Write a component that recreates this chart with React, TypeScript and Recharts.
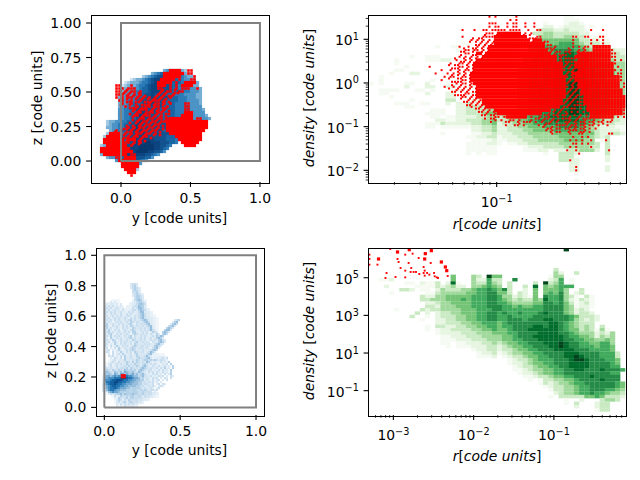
import React from 'react'
import { ScatterChart, Scatter, XAxis, YAxis, Label } from 'recharts'

// upper left: positions, 3px-ish bins, '.' = empty
const topBlueRows = [
  '', '', '',
  '.....................34565432',
  '.................34566776654321',
  '..............234567788776654332',
  '..........1233456788887766554433',
  '........1233345567888877666554433',
  '.......12333455678888777665554433',
  '.......233344566788887776655544433',
  '.......334445566788877776665554443',
  '......3344455667787777666555444433',
  '......3344555667788777766655544433',
  '......3445556677788777666655544443',
  '......3445566677787776666555544443',
  '......3445566777777776666555554444',
  '......44556677877777666665555544443',
  '......44556678877776666665555544444',
  '......445566788777766666655555444443',
  '......4455667887777666666655555444443',
  '..2334455667788777777666665555544443',
  '..23445566778877777777666655555444',
  '..334455667888777777776666655554',
  '...3445667788877777776666555544',
  '..23445566778887777777766655544',
  '.234455667788888777777666655',
  '.23445566778888888777766655',
  '.2344556677888899888777665',
  '234455667788899999887765',
  '23445566778889999988765',
  '2344556677889999887764',
  '34455667788888877654',
  '..3445567788777664',
  '.....44566777654',
  '.......4566654',
  '.........4553',
  '...........32',
]

// red points per row: "a-b" = packed run of bins, "a" = lone point
const topRedRows = [
  '', '', '',
  '23-26 29 30',
  '21-27 29 30',
  '21-26 31',
  '20-24 26 30 31',
  '19-23 25 28-31',
  '5 6 10 19-21 23 25 27-30',
  '5 6 7 9 10 11 19 20 23 25 27 28 29 32',
  '5 6 8 10 11 13 20 22 23 26 27',
  '5 6 7 9 11 13 19 21 24',
  '5 7 9 10 12 14 16 18 20 23',
  '6 7 10 13 17 18 19 21',
  '7 10 16 18 19 21 23 28 29',
  '8 12 15 16 18 19 22 28 29',
  '11 13 14 15 17 19 21 28 29',
  '12 13 15 16 17 19 20 28-30',
  '11 12 14 15 16 18 20 27-30',
  '13 14 16 17 19 20 22 23-30 32 33',
  '12 14 15 17 18 20 21 22-35',
  '13 15 16 18 19 22-35',
  '9 11 13 14 16 17 19 22-35',
  '5 10 12 14 15 17 18 22-34',
  '3-6 8 10 12 13 15 16 18 23-33',
  '2-6 9 11 12 14 15 25-33',
  '1-7 9-11 13 26-33',
  '1-7 8 9 11 13 27-32',
  '2-8 10 28-31',
  '0-9',
  '0-10',
  '1-8 10 11',
  '5 6 8-11',
  '6-11',
  '7-12',
  '7-12',
  '8-11',
  '9-11',
  '10',
]
// loose points sitting between the bins above
const topRedLoose = [
  '', '', '', '', '', '', '', '', '',
  '8 20 24',
  '7 9 12 19 21 24 25',
  '8 10 12 14 18 20 22 23',
  '6 8 11 13 15 17 19 21',
  '8 9 11 12 14 15 16 20 22',
  '6 9 11 13 14 15 17 20',
  '9 10 11 13 14 17 20 21',
  '10 12 16 18 20 22',
  '9 11 14 18 21 22',
  '10 13 17 19 21',
  '10 12 15 18 21',
  '9 11 13 16 19',
  '8 10 12 14 17 20',
  '7 8 10 12 15 18 20',
  '4 6 8 9 11 13 16 19',
  '7 9 11 14 17 19',
  '7 8 10 13 16',
  '8 12 14',
  '10 12',
]

// upper right: 50x50 histogram, left and right halves of each density row
const topHeatLeft = [
  '', '', '', '', '', '', '', '',
  '..................11',
  '.............1..11',
  '.................1111',
  '',
  '........1..111',
  '.....1.....1112211',
  '.....1...............1',
  '.......1',
  '.....11',
  '....1...22.......1',
  '..1',
  '..1.........1....11',
  '1.1....11..2...11',
  '.......2...22..22..11',
  '..1111...11.1...11',
  '..11.......2...22...2',
  '....1..........22.11.22',
  '........1......33...222',
  '.....111..11...2.2232223',
  '.......11........22333334',
  '............111..22333344',
  '...........1111..22333455',
  '............11.1122223344',
  '.............221122333445',
  '...........11132222233445',
  '...........11.11111122334',
  '....................22334',
  '..............1.....11223',
  '...................112233',
  '....................11112',
  '...................111122',
  '...................111111',
  '...................111111',
  '...................1.1.11',
]
const topHeatRight = [
  '.............11',
  '.............111',
  '.........1...1221',
  '.........22.12222.1',
  '........3332232221',
  '.......33443333322',
  '........4443344332111',
  '.......455555555332211',
  '.......455556665433322',
  '......5566666666543332',
  '......5566677776654433322',
  '......5566677887665443332',
  '.....55666778887665544333',
  '.....55666778887766544433',
  '.....56667788888776554444',
  '.....56667788888776655444',
  '....556667788889877665544',
  '....556667788889877665544',
  '....556667788889877665544',
  '....556667788889877665544',
  '....556677788899887766554',
  '....556677788899887766554',
  '....556677788899887766554',
  '....556677788899887766554',
  '....556677788899887766554',
  '....556677788899887766554',
  '....556677788899887766554',
  '....556677788899887766554',
  '....556677788899887766554',
  '....556677788899887765544',
  '3445566677888888776654433',
  '3344556677788888766543332',
  '2334455667777777765433322',
  '2233445556667777654322211',
  '2233344555566666654322221',
  '2223334444455555555322332',
  '1222333444445555554323...',
  '1122233344444555544.13...',
  '1.112233333344444443.3...',
  '.....122233334444433.3...',
  '.....11122.222334442.3...',
  '.........1..3332.....3...',
  '............3331.....2...',
  '............3322.....2...',
  '..............22',
  '..............22.....2...',
  '..............22.....2...',
  '...............1',
  '',
  '...............1',
]
const topHeatRed = [
  '40 42 49',
  '47 49',
  '40 41 42 46 48 49 52 55',
  '40 42 43 46 48 49 52 55',
  '31 35 38 39 41 42 43 44 45 47 48 49 50 53 56 57 74 78',
  '39 40 41 43-50 52 54',
  '31 38 39 40 41 42-52 56 57 68 69 72 73 77 78',
  '34 36 38 40 42-53 55-57 68 74 76 78',
  '37 39 41 42-58 68 74 78',
  '30 33 36 38 40-58 62 68 70 72 73 75-80',
  '32 33 35 36 38 40-59 61 67 70 72 75-80 81',
  '32 33 36-37 39-60 62 67 70-80 81 82',
  '30 32 34 36 38-62 64 69-80 81 82',
  '29 32 34 36-62 64 70-80 82 84',
  '27 30 31 33 35-64 66 69-81 82',
  '20 30 31 33 35-64 65 67 69-81 83',
  '24 27 30 32 33 35-64 65 68 70-81 82 84',
  '22 26 28 30 32 34-64 66 68-81 83 84',
  '25 27 28 31 32 34-65 66 68 69-83 84',
  '24 31 32 34-65 67 69-83 84',
  '29 31 32 34 35-65 66 68 70-83 85',
  '25 28 30 32 34 36-65 66 68 70-83 85',
  '29 31 33 36-65 67 69 71-84',
  '32 33 36-65 66 68 71-84',
  '31 32 34 36-65 67 69 72-85',
  '33 35 37 38-64 66 68 72-85',
  '34 36 38-64 65 67 72-85',
  '34 37 39-63 65 66 73-85',
  '38 40 42-60 62 64 73-84 85',
  '39 42 43-57 60 63 66 74-84 85',
  '42 43 45 46-52 54 57 60 63 67 70 74-81 83 85',
  '42 44 47 48 50 54 58 61 63 67 69 72 75 78 81',
  '50 59 60 66 69 72 75 78',
  '58 61 67 69 72',
  '59 61 67 68 69 72',
  '61 67 70 71 80 81',
  '68 71 73',
  '67 69 71 74 79',
  '68 69 71 73',
  '67 69 74',
  '66 69 80',
  '70',
  '',
  '67',
  '',
  '69',
  '69',
]
// loose points round the edges of the packed red area and in the gap between its two lobes
const topHeatRedLoose = [
  '', '', '', '', '',
  '38 42 51 53',
  '34 36 37 53 54 55',
  '33 35 37 39 41 54 58 59',
  '35 36 38 40 59 60',
  '31 34 35 37 39 59 60 61 66 71',
  '30 31 34 37 39 60 62 63 65 66 69 71',
  '30 34 35 38 61 63 64 65 69 71 72',
  '28 31 33 35 37 63 65 66 67 68 72',
  '30 31 33 35 63 65 66 67 68 69 72',
  '26 28 29 32 34 65 67 68 70',
  '27 28 29 32 34 66 68 71',
  '29 31 34 66 67 69 71',
  '27 29 31 33 65 67 69 70',
  '26 29 30 33 67 68',
  '27 28 29 30 33 66 68 70',
  '27 30 33 67 69 71',
  '26 29 31 33 35 67 69 71',
  '27 28 30 32 34 35 66 68 70 72',
  '28 29 30 31 34 35 67 69 70',
  '30 33 35 66 68 70 71',
  '31 32 34 36 65 67 69 70 71',
  '32 33 35 37 66 68 69 70 71',
  '35 36 38 64 67 68 70 72',
  '36 37 39 41 61 63 65 67 69 71',
  '37 38 40 41 58 59 61 62 64 65 68 70 72',
  '38 40 41 55 56 58 59 61 64 65 66 69 71 72 73',
  '40 45 46 49 51 52 53 55 57 60 62 65 66 68 70 71 73 74 76 77 79 80',
  '45 48 49 51 56 58 62 63 64 65 67 68 70 71 73 74 76 79',
  '59 60 62 63 65 66 68 70 71 73 75',
  '60 62 63 66 70 71 73',
]

// lower left positions: faint 3px bins under the 2px filaments
const lowWashRows = [
  '', '', '',
  '............22',
  '............232',
  '............233',
  '............1232',
  '.............232',
  '.....111....23321',
  '...12221...233331',
  '...122222.2233442',
  '...122232222234432',
  '...1222322222344332',
  '...12222322223343321',
  '...122223222233433321',
  '...122223232234433321',
  '...122222323224433321',
  '...122222332234433221',
  '...122222332233432221',
  '....1222243223343212',
  '....12222342233432232',
  '....12222342234322233',
  '....1222234223432.13',
  '....1222234223442232',
  '.....11222342344322',
  '......122234234432',
  '......12223423443212211',
  '.....1222234334432222331',
  '....12223343343432222322',
  '...122233443444332222232',
  '...1222344454443322222321',
  '...1333445555443322222231',
  '...2344556765543322222231',
  '..13455678876554332222',
  '..2456789987655433221',
  '..3456788876655433221',
  '..45678877665544332',
  '..4567777665544333',
  '..3455666665554433',
  '...123445566655544332',
  '.....1223445556544321',
  '......122334455432',
  '......1223344432',
  '.......1223332',
]
const lowBlueRows = [
  '', '', '', '',
  '.................1221',
  '.................1231',
  '.................12321',
  '..................2321',
  '..................2231',
  '..................12321',
  '..................123321',
  '...................23321',
  '...................23431',
  '.......1.1.........123321',
  '.....1.11.1.1......123432',
  '....11212.1.1.....1224331',
  '....1212.121.1....2124431',
  '....212.1211.2...12213432',
  '....121212.12.1.212.12441',
  '....21.2121.21.2121.12342',
  '....12.12.212.1221.212342',
  '....212.1212.121.21212342.1',
  '....1212.2121.2123121.23431............123',
  '....2121.1212.1213212.12342...........134',
  '....13.121.212.1231.212.2341.........1342',
  '....231.2121.212.3212.1212341.......2341',
  '....1312.121.2121.321.2121241......3431',
  '....2131.212.121.2321.21212421....3441',
  '....12312.121.212.331.1212.1321..3431',
  '....21231.212.121.2321.212.21.31.342',
  '....1213.2121.2123.21.2121.1213243',
  '....21.31.212.1.2312.1212.12.13431',
  '....121.32.121.21.321.212.1212.3421',
  '....212.131.212.12.231.2121.2.13431',
  '....12.1.31.2121.2.321.12121.23421',
  '....21.2.131.212.12321.2121.13421',
  '.....2.1.2.31.21.2321.2.121.2341',
  '.....12.1.131.12.2321.121.12342',
  '.....21.2.1.31.212.321.2.12431',
  '......1.2.12.31.12.231.1.2341',
  '......212.1.2.3.121.321.2421',
  '.......1.21.2.31.21.232.2341..1.12.2',
  '........12.1.131.12.32.233232321221',
  '.......121.2.1.32.3.3212.431.1..2.1.3',
  '......12.12.2.13.2132.1232.2121..1.2.3',
  '....1.12.12.1.2.312.3213421.21.2.12.1.3',
  '....12.21.2.22.3132.21343212112.2.3.1.3',
  '....232.32.32.43.3.313432122.1.2.2.1.3',
  '....3432.43.4.54.34.24321.212.21.2.1.3',
  '....4343.54.55.5.4534.342.1.212.1.2.13',
  '....45545656677766544.3421.2.1.212.1.21',
  '....556667778998776554.3.21.212.1.21.2',
  '....66678899987766554433.21.2.12.1.2',
  '....5778899887766554433.2.212.1.1',
  '....4678898776655544433.22.12.12.21',
  '.....5678877665544443322.12121.121',
  '.....567787655544.33332.21.21.12',
  '.....46776554443.333.2323212212',
  '......45655433.33.3332.32222.1',
  '.......2.2334.433.4332.32.221',
  '.........2.132.3.3322.212',
  '.........1.32.23.332.2.1',
  '..........132.2.32.2.1.1',
  '..........12.23.232.2.1',
  '..........1.2.2.2.2.1',
  '..........1.1.2.1.1',
]
const lowRedY = [0.115, 0.125, 0.135, 0.115, 0.125, 0.135]
const lowRedZ = [0.198, 0.198, 0.198, 0.212, 0.212, 0.212]

// lower right histogram
const lowHeatLeft = [
  '', '', '', '', '', '', '', '',
  '................5...43.95',
  '..112...........5...42263',
  '.......11.2113.281..43364',
  '...2.....1111323422.44565',
  '......332.11.243334456676',
  '....1......11344444556677',
  '..........322445555566677',
  '..........334445556566677',
  '...........22344555566677',
  '...........33244455566677',
  '.....1....323344445556667',
  '.........3.2.233445556677',
  '........3..1.233344556677',
  '..........1..223344556677',
  '.............223334455666',
  '...........1.332233445566',
  '...........1.122333344556',
  '.............122223334445',
  '..............11222333444',
  '..............11122233344',
  '..............11.11222334',
  '...............1.11122233',
  '....................12233',
  '.....................1223',
  '.....................1112',
]
const lowHeatRight = [
  '.............9',
  '', '', '', '', '',
  '...........3',
  '...........42..3',
  '5.........144',
  '3..7......236.1',
  '3.3....3.9346.1',
  '4.3..3.8.545666',
  '573..2.5.55564..3',
  '553.32.5.56574.23',
  '64423215.7667431.31',
  '6543433548667421321',
  '6654444557767531231',
  '7665655667777541221',
  '766666666777754232',
  '6766766678777542332',
  '66766667777777653332',
  '66777677788777643232',
  '5677777777887654333',
  '5667777887887654343.3',
  '5567778888887655343141',
  '55667777888877654442324',
  '45567778888887665542434',
  '45566777888887766554454',
  '34556677788898776655664',
  '23455667778898776665665',
  '23345566777888877766665',
  '123445566777788877776663',
  '.12334556677788987776663',
  '..1233456667778998777665',
  '..1223455667778888777765',
  '...123345566778888777766',
  '...1123445566778877787776',
  '....12234556677777777766',
  '.....1123345566777877777',
  '......1.1334455677778777',
  '........13234456677777765',
  '.........1233445667777765',
  '..........133445667776654',
  '...........23445667665443',
  '..........1.3333355653332',
  '.............1..2...3443.1',
  '.............1.3...233',
  '...............2...233',
  '...................133',
]
// log10 r, log10 density of the red points
const lowBigLogR = [-3.185, -2.948, -2.802, -2.602, -2.527, -2.61, -2.402, -2.352, -2.335]
const lowBigLogD = [5.996, 6.368, 6.49, 6.279, 6.438, 5.996, 5.837, 5.571, 5.376]
const lowSmallLogR = [
  -3.039, -2.852, -2.76, -2.685, -2.948, -2.935, -2.81, -2.535, -3.198, -2.91, -2.777, -2.623, -3.085,
  -2.852, -2.785, -2.748, -2.718, -2.677, -2.61, -2.623, -2.58, -2.552, -2.493, -2.485, -2.46, -2.443,
  -2.323, -3.098, -2.973, -2.852, -2.61, -3.298, -3.298, -3.298,
]
const lowSmallLogD = [
  6.527, 6.226, 6.279, 6.049, 5.996, 5.837, 5.784, 5.784, 5.695, 5.518, 5.518, 5.571, 5.253,
  5.376, 5.306, 5.306, 5.306, 5.2, 5.376, 5.253, 5.253, 5.164, 5.253, 5.076, 5.022, 4.987,
  5.093, 4.987, 5.04, 5.022, 5.111, 5.996, 5.695, 6.226,
]

const topXTicks = [0.02, 0.03, 0.04, 0.05, 0.06, 0.07, 0.08, 0.09, 0.1, 0.2, 0.3, 0.4, 0.5, 0.6, 0.7]
const topYTicks = [
  0.006, 0.007, 0.008, 0.009, 0.01, 0.02, 0.03, 0.04, 0.05, 0.06, 0.07, 0.08, 0.09, 0.1, 0.2, 0.3, 0.4, 0.5,
  0.6, 0.7, 0.8, 0.9, 1, 2, 3, 4, 5, 6, 7, 8, 9, 10, 20, 30,
]
const lowXTicks = [
  0.0006, 0.0007, 0.0008, 0.0009, 0.001, 0.002, 0.003, 0.004, 0.005, 0.006, 0.007, 0.008, 0.009, 0.01, 0.02,
  0.03, 0.04, 0.05, 0.06, 0.07, 0.08, 0.09, 0.1, 0.2, 0.3, 0.4, 0.5, 0.6, 0.7,
]
const lowYTicks = [0.1, 10, 1000, 100000]

const greens = ['', '#f5fbf2', '#e5f5e0', '#c9eac2', '#a0d99b', '#74c476', '#41ab5d', '#238b45', '#006d2c', '#00441b']
const blues = ['', '#cfe3f1', '#a5cbe4', '#77afd4', '#4c93c6', '#2b7bb8', '#1a66a4', '#12538f', '#0c4580', '#083a70']
const paleBlues = ['', '#dbe9f4', '#c9deef', '#b3d1e8', '#97bfdd', '#74a9d2', '#4790c4', '#2374b3', '#12609f', '#0a4a8a']
const washBlues = ['', '#f1f6fb', '#e8f1f8', '#deebf5', '#d3e4f1', '#c6dcec', '#b8d3e8', '#a9cae3', '#99c0de', '#89b6d9']

const FONT = 'DejaVu Sans'
const GREY = '#808080'
const boxCorners = [
  { x: 0, y: 0 }, { x: 1, y: 0 }, { x: 1, y: 1 }, { x: 0, y: 1 }, { x: 0, y: 0 },
]

// turn digit rows into points at the middle of each bin
function levelCells(rows: string[], x0: number, dx: number, y0: number, dy: number, log = false) {
  const out: { x: number; y: number; level: number }[] = []
  rows.forEach((row, r) => {
    ;[...row].forEach((ch, c) => {
      if (ch === '.') return
      const x = x0 + (c + 0.5) * dx
      const y = y0 - (r + 0.5) * dy
      out.push({ x: log ? 10 ** x : x, y: log ? 10 ** y : y, level: Number(ch) })
    })
  })
  return out
}

function redCells(rows: string[], x0: number, dx: number, y0: number, dy: number, log = false) {
  const out: { x: number; y: number; solid: boolean }[] = []
  rows.forEach((row, r) => {
    row.split(' ').filter(Boolean).forEach((tok) => {
      const [a, b] = tok.split('-').map(Number)
      for (let c = a; c <= (b ?? a); c++) {
        const x = x0 + (c + 0.5) * dx
        const y = y0 - (r + 0.5) * dy
        out.push({ x: log ? 10 ** x : x, y: log ? 10 ** y : y, solid: b !== undefined })
      }
    })
  })
  return out
}

const zipHalves = (left: string[], right: string[]) =>
  right.map((row, i) => (left[i] ?? '').padEnd(25, '.') + row)

const topBlue = levelCells(topBlueRows, -0.151, 0.02158, 0.7319, 0.02174)
const topRed = [
  ...redCells(topRedRows, -0.151, 0.02158, 0.7319, 0.02174),
  ...redCells(topRedLoose, -0.14, 0.02158, 0.721, 0.02174),
]
const lowWash = levelCells(lowWashRows, -0.0547, 0.01978, 0.8704, 0.01974)
const lowBlue = levelCells(lowBlueRows, -0.0547, 0.01318, 0.8704, 0.01316)
const lowRed = lowRedY.map((x, i) => ({ x, y: lowRedZ[i] }))

const topHeat = levelCells(zipHalves(topHeatLeft, topHeatRight), -1.877, 1.758 / 50, 1.556, 3.824 / 50, true)
const topHeatDots = [
  ...redCells(topHeatRed, -1.877, 1.758 / 86, 1.556, 3.824 / 50, true),
  ...redCells(topHeatRedLoose, -1.867, 1.758 / 86, 1.518, 3.824 / 50, true),
]
const lowHeat = levelCells(zipHalves(lowHeatLeft, lowHeatRight), -3.31, 3.201 / 50, 6.58, 8.87 / 50, true)
const lowBig = lowBigLogR.map((v, i) => ({ x: 10 ** v, y: 10 ** lowBigLogD[i] }))
const lowSmall = lowSmallLogR.map((v, i) => ({ x: 10 ** v, y: 10 ** lowSmallLogD[i] }))

const boxShape = (w: number, h: number, fill: string) => (p: any) =>
  <rect x={p.cx - w / 2} y={p.cy - h / 2} width={w} height={h} fill={fill} />
const levelShape = (w: number, h: number, palette: string[]) => (p: any) =>
  <rect x={p.cx - w / 2} y={p.cy - h / 2} width={w} height={h} fill={palette[p.payload.level]} />
const redShape = (w: number, h: number, dot: number) => (p: any) =>
  p.payload.solid ? (
    <rect x={p.cx - w / 2} y={p.cy - h / 2} width={w} height={h} fill="#ff0000" />
  ) : (
    <rect x={p.cx - dot / 2} y={p.cy - dot / 2} width={dot} height={dot} fill="#ff0000" />
  )

const noShape = () => <g />

const textProps = { fontFamily: FONT, fontSize: 13.9, fill: '#000' }

const linearXTick = (digits: number) => (p: any) => (
  <g>
    <line x1={p.x} x2={p.x} y1={p.y} y2={p.y + 4.9} stroke="#000" strokeWidth={1.1} />
    <text x={p.x} y={p.y + 21} textAnchor="middle" {...textProps}>{p.payload.value.toFixed(digits)}</text>
  </g>
)
const linearYTick = (digits: number) => (p: any) => (
  <g>
    <line x1={p.x - 4.9} x2={p.x} y1={p.y} y2={p.y} stroke="#000" strokeWidth={1.1} />
    <text x={p.x - 9.7} y={p.y + 5} textAnchor="end" {...textProps}>{p.payload.value.toFixed(digits)}</text>
  </g>
)

const isDecade = (v: number) => Math.abs(Math.log10(v) - Math.round(Math.log10(v))) < 1e-6
const powerText = (v: number) => String(Math.round(Math.log10(v))).replace('-', '\u2212')

const logXTick = (p: any) => {
  const major = isDecade(p.payload.value)
  return (
    <g>
      <line x1={p.x} x2={p.x} y1={p.y} y2={p.y + (major ? 4.9 : 2.8)} stroke="#000" strokeWidth={major ? 1.1 : 0.8} />
      {major && (
        <text x={p.x} y={p.y + 25} textAnchor="middle" {...textProps}>
          10<tspan dy={-5.5} fontSize={9.7}>{powerText(p.payload.value)}</tspan>
        </text>
      )}
    </g>
  )
}
const logYTick = (p: any) => {
  const major = isDecade(p.payload.value)
  return (
    <g>
      <line x1={p.x - (major ? 4.9 : 2.8)} x2={p.x} y1={p.y} y2={p.y} stroke="#000" strokeWidth={major ? 1.1 : 0.8} />
      {major && (
        <text x={p.x - 9.7} y={p.y + 6} textAnchor="end" {...textProps}>
          10<tspan dy={-5.5} fontSize={9.7}>{powerText(p.payload.value)}</tspan>
        </text>
      )}
    </g>
  )
}

const plainLabel = (x: number, y: number, text: string, rotate = false) => () => (
  <text x={x} y={y} textAnchor="middle" transform={rotate ? `rotate(-90 ${x} ${y})` : undefined} {...textProps}>{text}</text>
)
const mathLabel = (x: number, y: number, name: string, gap: string, rotate = false) => () => (
  <text x={x} y={y} textAnchor="middle" transform={rotate ? `rotate(-90 ${x} ${y})` : undefined} {...textProps}>
    <tspan fontStyle="italic">{name}</tspan>
    <tspan>{gap}[</tspan>
    <tspan fontStyle="italic">code units</tspan>
    <tspan>]</tspan>
  </text>
)

type Frame = { left: number; right: number; top: number; bottom: number }

function Panel({ frame, xDomain, yDomain, xProps, yProps, children }: any) {
  const f: Frame = frame
  return (
    <div style={{ position: 'absolute', left: 0, top: 0 }}>
      <ScatterChart
        width={640}
        height={480}
        margin={{ left: f.left - 60, right: 640 - f.right, top: f.top, bottom: 480 - f.bottom - 60 }}
      >
        <XAxis type="number" dataKey="x" domain={xDomain} height={60} allowDataOverflow interval={0} tickLine={false}
          tickSize={0} tickMargin={0} axisLine={false} {...xProps} />
        <YAxis type="number" dataKey="y" domain={yDomain} width={60} allowDataOverflow interval={0} tickLine={false}
          tickSize={0} tickMargin={0} axisLine={false} {...yProps} />
        {children}
      </ScatterChart>
      <div
        style={{
          position: 'absolute',
          left: f.left - 0.5,
          top: f.top - 0.5,
          width: f.right - f.left,
          height: f.bottom - f.top,
          border: '1px solid #000',
          pointerEvents: 'none',
        }}
      />
    </div>
  )
}

const greyBox = (
  <Scatter data={boxCorners} line={{ stroke: GREY, strokeWidth: 2 }} shape={noShape} isAnimationActive={false} />
)

export default function App() {
  return (
    <div style={{ position: 'absolute', left: 0, top: 0, width: 640, height: 480, background: '#fff' }}>
      <Panel
        frame={{ left: 91, right: 268, top: 15, bottom: 182 }}
        xDomain={[-0.216, 1.058]}
        yDomain={[-0.152, 1.058]}
        xProps={{ ticks: [0, 0.5, 1], tick: linearXTick(1), children: <Label content={plainLabel(179.5, 223, 'y [code units]')} /> }}
        yProps={{ ticks: [0, 0.25, 0.5, 0.75, 1], tick: linearYTick(2), children: <Label content={plainLabel(42, 98, 'z [code units]', true)} /> }}
      >
        <Scatter data={topBlue} shape={levelShape(3.2, 3.2, blues)} isAnimationActive={false} />
        <Scatter data={topRed} shape={redShape(3.2, 3.2, 2.6)} isAnimationActive={false} />
        {greyBox}
      </Panel>

      <Panel
        frame={{ left: 368.5, right: 625.5, top: 15, bottom: 182 }}
        xDomain={[0.0133, 0.76]}
        yDomain={[0.0054, 36]}
        xProps={{ scale: 'log', ticks: topXTicks, tick: logXTick, children: <Label content={mathLabel(497, 229, 'r', '')} /> }}
        yProps={{ scale: 'log', ticks: topYTicks, tick: logYTick, children: <Label content={mathLabel(314, 98, 'density', ' ', true)} /> }}
      >
        <Scatter data={topHeat} shape={levelShape(5.3, 3.5, greens)} isAnimationActive={false} />
        <Scatter data={topHeatDots} shape={redShape(3.2, 3.5, 2)} isAnimationActive={false} />
      </Panel>

      <Panel
        frame={{ left: 96, right: 263, top: 248, bottom: 415 }}
        xDomain={[-0.055, 1.046]}
        yDomain={[-0.05, 1.048]}
        xProps={{ ticks: [0, 0.5, 1], tick: linearXTick(1), children: <Label content={plainLabel(179.5, 455, 'y [code units]')} /> }}
        yProps={{ ticks: [0, 0.2, 0.4, 0.6, 0.8, 1], tick: linearYTick(1), children: <Label content={plainLabel(56, 331, 'z [code units]', true)} /> }}
      >
        <Scatter data={lowWash} shape={levelShape(3.1, 3.1, washBlues)} isAnimationActive={false} />
        <Scatter data={lowBlue} shape={levelShape(2.1, 2.1, paleBlues)} isAnimationActive={false} />
        <Scatter data={lowRed} shape={boxShape(2, 2, '#ff0000')} isAnimationActive={false} />
        {greyBox}
      </Panel>

      <Panel
        frame={{ left: 368.5, right: 625.5, top: 248, bottom: 415 }}
        xDomain={[0.00049, 0.78]}
        yDomain={[0.0051, 3800000]}
        xProps={{ scale: 'log', ticks: lowXTicks, tick: logXTick, children: <Label content={mathLabel(497, 461, 'r', '')} /> }}
        yProps={{ scale: 'log', ticks: lowYTicks, tick: logYTick, children: <Label content={mathLabel(314, 331, 'density', ' ', true)} /> }}
      >
        <Scatter data={lowHeat} shape={levelShape(5.3, 3.5, greens)} isAnimationActive={false} />
        <Scatter data={lowBig} shape={boxShape(3.2, 3.2, '#ff0000')} isAnimationActive={false} />
        <Scatter data={lowSmall} shape={boxShape(1.9, 1.9, '#ff0000')} isAnimationActive={false} />
      </Panel>
    </div>
  )
}
